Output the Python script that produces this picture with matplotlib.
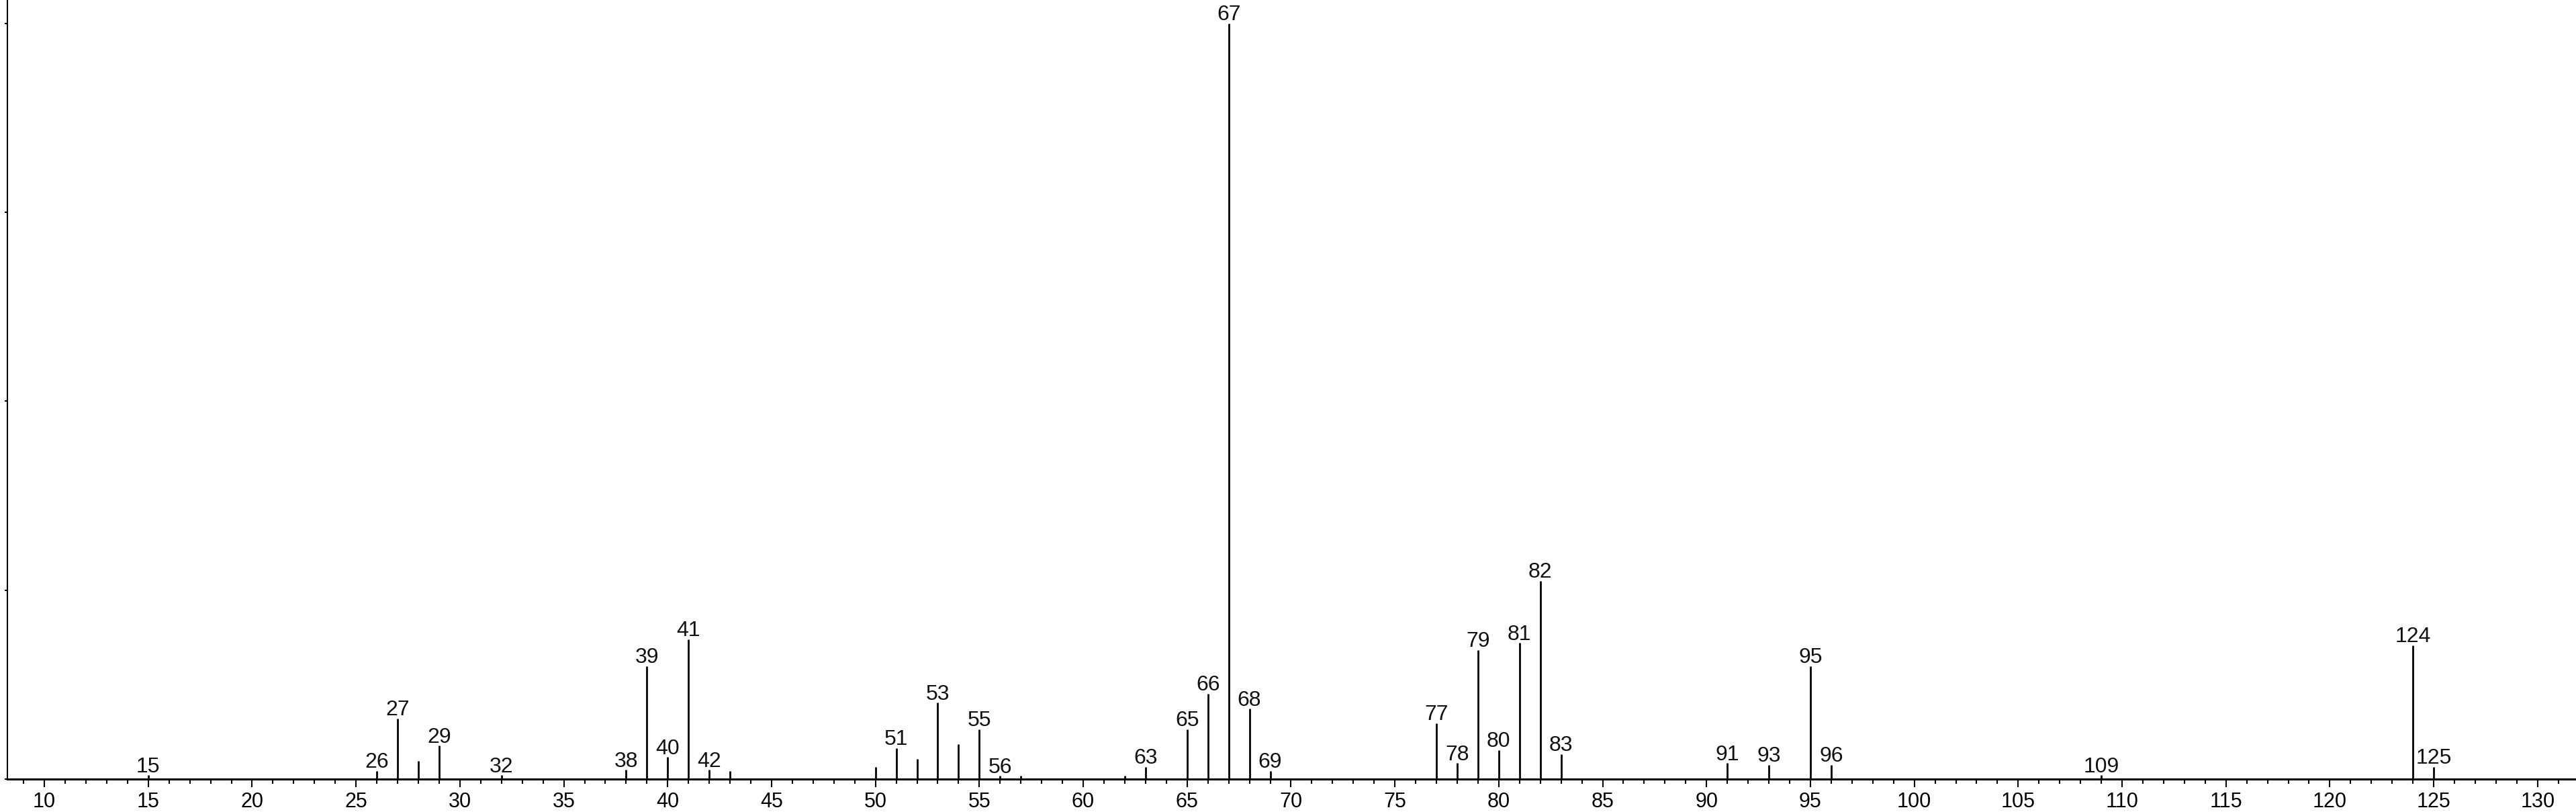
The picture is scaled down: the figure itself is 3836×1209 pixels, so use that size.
'''
Mass spectrum stick plot with labelled peaks
'''

from matplotlib import pyplot as plt
from matplotlib.ticker import MultipleLocator

# m/z values and relative intensities (%)
mz = [15, 26, 27, 28, 29, 32, 38, 39, 40, 41, 42, 43,
      50, 51, 52, 53, 54, 55, 56, 57, 62, 63, 65, 66, 67, 68, 69,
      77, 78, 79, 80, 81, 82, 83, 91, 93, 95, 96, 109, 124, 125]
intensity = [0.5, 1.1, 8.0, 2.4, 4.4, 0.5, 1.2, 14.9, 2.9, 18.5, 1.2, 1.1,
             1.6, 4.1, 2.7, 10.1, 4.6, 6.6, 0.4, 0.4, 0.4, 1.6, 6.6, 11.3, 100.0, 9.3, 1.1,
             7.4, 2.1, 17.1, 3.8, 18.0, 26.2, 3.3, 2.1, 1.9, 14.9, 1.9, 0.5, 17.7, 1.6]

# peaks that carry a text label
labelled = [15, 26, 27, 29, 32, 38, 39, 40, 41, 42, 51, 53, 55, 56, 63, 65, 66, 67,
            68, 69, 77, 78, 79, 80, 81, 82, 83, 91, 93, 95, 96, 109, 124, 125]

plt.rcParams['font.family'] = ['Liberation Sans', 'DejaVu Sans']

fig = plt.figure(figsize=(38.37, 12.09), dpi=100)
ax = fig.add_axes([11 / 3837, 49 / 1209, 3826 / 3837, 1160 / 1209])

# draw the sticks
ax.vlines(mz, 0, intensity, colors='black', linewidth=2.0)

# label each peak with its m/z
for (m, val) in zip(mz, intensity):
    if m in labelled:
        ax.annotate(str(m), (m, val), xytext=(0, 3.5), textcoords='offset points',
                    ha='center', va='baseline', fontsize=23, color='#111111')

# axes limits and ticks
ax.set_xlim(8.22, 131.88)
ax.set_ylim(0, 103.1)
ax.xaxis.set_major_locator(MultipleLocator(5))
ax.xaxis.set_minor_locator(MultipleLocator(1))
ax.yaxis.set_major_locator(MultipleLocator(25))
ax.set_yticklabels([])
ax.tick_params(axis='x', which='major', direction='out', length=8.5, width=1.5,
               labelsize=22, pad=5)
ax.tick_params(axis='x', which='minor', direction='out', length=5, width=1.5)
ax.tick_params(axis='y', which='major', direction='out', length=3, width=1.5)

# spines
ax.spines['top'].set_visible(False)
ax.spines['right'].set_visible(False)
ax.spines['bottom'].set_linewidth(2.2)
ax.spines['left'].set_linewidth(1.5)

fig.savefig('out.png', dpi=100)
